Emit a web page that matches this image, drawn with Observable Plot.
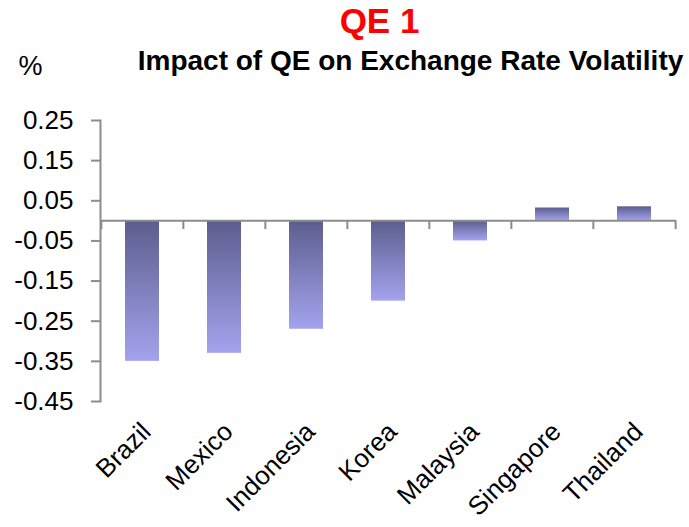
<!DOCTYPE html>
<html>
<head>
<meta charset="utf-8">
<script src="https://cdn.jsdelivr.net/npm/d3@7"></script>
<script src="https://cdn.jsdelivr.net/npm/@observablehq/plot@0.6"></script>
<style>
  html, body { margin: 0; padding: 0; background: #fff; }
</style>
</head>
<body>
<div id="chart"></div>
<script>
const countries = ["Brazil", "Mexico", "Indonesia", "Korea", "Malaysia", "Singapore", "Thailand"];
const values = [-0.35, -0.33, -0.27, -0.20, -0.05, 0.032, 0.035];
const yTicks = [0.25, 0.15, 0.05, -0.05, -0.15, -0.25, -0.35, -0.45];
const titleText = "QE 1";
const subtitleText = "Impact of QE on Exchange Rate Volatility";
const unitText = "%";

const data = countries.map((c, i) => ({country: c, value: values[i]}));
const axisGray = "#8c8c8c";
const halfStep = 41.15;

const chart = Plot.plot({
  width: 689,
  height: 527,
  marginTop: 120,
  marginBottom: 126,
  marginLeft: 100,
  marginRight: 13,
  style: {fontFamily: "'Liberation Sans', Arial, sans-serif", background: "white", overflow: "visible"},
  x: {domain: countries, paddingInner: 0.59, paddingOuter: 0.295, axis: null},
  y: {domain: [-0.45, 0.25], axis: null},
  marks: [
    Plot.barY(data, {x: "country", y: "value", fill: "url(#qeGrad)"}),
    Plot.frame({anchor: "left", stroke: axisGray, strokeWidth: 2}),
    Plot.axisY({ticks: yTicks, tickSize: 9, tickPadding: 18, tickFormat: d => d.toFixed(2),
      fontSize: 26, stroke: axisGray, strokeWidth: 2, label: null}),
    Plot.ruleY([0], {stroke: axisGray, strokeWidth: 2}),
    Plot.ruleX(countries, {x: d => d, dx: -halfStep, y1: 0, y2: -0.0217, stroke: axisGray, strokeWidth: 2}),
    Plot.ruleX([countries[countries.length - 1]], {x: d => d, dx: halfStep, y1: 0, y2: -0.0217, stroke: axisGray, strokeWidth: 2}),
    Plot.axisX({tickRotate: -45, tickSize: 0, tickPadding: 26, dx: 4, fontSize: 26, label: null}),
    Plot.text([titleText], {frameAnchor: "top", lineAnchor: "middle", dx: -9, dy: -99,
      fontSize: 35, fontWeight: "bold", fill: "#ff0000"}),
    Plot.text([subtitleText], {frameAnchor: "top", lineAnchor: "middle", dx: 22, dy: -59,
      fontSize: 28, fontWeight: "bold", fill: "#000"}),
    Plot.text([unitText], {frameAnchor: "top-left", textAnchor: "middle", lineAnchor: "middle", dx: -70, dy: -54,
      fontSize: 27, fill: "#000"})
  ]
});

const svg = d3.select(chart);
const defs = svg.insert("defs", ":first-child");
const grad = defs.append("linearGradient").attr("id", "qeGrad")
  .attr("x1", 0).attr("y1", 0).attr("x2", 0).attr("y2", 1);
grad.append("stop").attr("offset", "0%").attr("stop-color", "#5c5d8d");
grad.append("stop").attr("offset", "100%").attr("stop-color", "#a3a3ee");

document.getElementById("chart").appendChild(chart);
</script>
</body>
</html>
